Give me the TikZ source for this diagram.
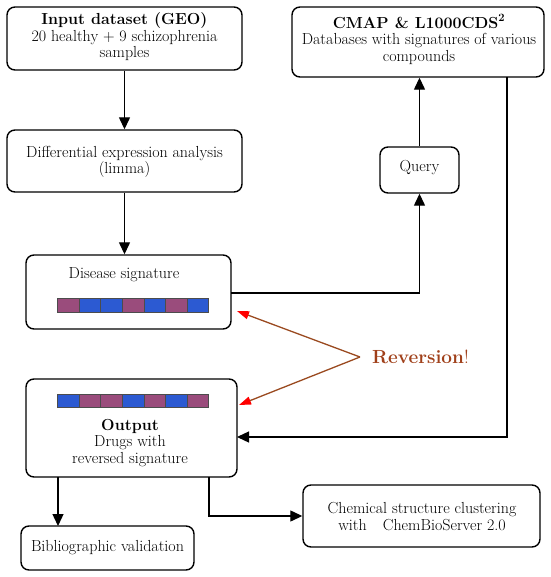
\documentclass[tikz,border=0pt]{standalone}
\usetikzlibrary{arrows.meta,calc}
\definecolor{mauve}{HTML}{9A4C7C}
\definecolor{sblue}{HTML}{2C5AD2}
\definecolor{revbrown}{HTML}{A0401A}
\definecolor{revline}{HTML}{9A4A20}
\tikzset{
  box/.style={draw, line width=1.4pt, rounded corners=8pt, inner sep=0pt},
  txt/.style={font=\fontsize{16}{16.5}\selectfont, align=center, inner sep=0pt},
  conn/.style={line width=1.3pt},
  arr/.style={conn, -{Triangle[length=12pt,width=11pt]}},
  rarr/.style={line width=1.3pt, revline, -{Triangle[length=12pt,width=8pt,color=red,fill=red]}},
  seg/.style={draw=black!70, line width=0.5pt},
}
\begin{document}
\begin{tikzpicture}[x=1pt,y=-1pt]
\useasboundingbox (0,0) rectangle (550,577);
% boxes
\node[box, minimum width=235pt, minimum height=63pt] (in) at (124.5,38.5) {};
\node[txt] (intxt) at (124.5,37) {\textbf{Input dataset (GEO)}\\20 healthy + 9 schizophrenia\\samples};
\node[box, minimum width=252pt, minimum height=70pt] (cmap) at (418,42) {};
\node[txt] (cmaptxt) at (419,39.5) {\textbf{CMAP \& L1000CDS\textsuperscript{2}}\\Databases with signatures of various\\compounds};
\node[box, minimum width=235pt, minimum height=62pt] (diff) at (124.5,161) {};
\node[txt] (difftxt) at (124.5,162) {Differential expression analysis\\(limma)};
\node[box, minimum width=205pt, minimum height=74pt] (dis) at (128.5,292) {};
\node[txt] (distxt) at (124,275) {Disease signature};
\node[box, minimum width=79pt, minimum height=46pt] (query) at (419.5,170) {};
\node[txt] (querytxt) at (419.5,168) {Query};
\node[box, minimum width=211pt, minimum height=98pt] (out) at (131.5,428) {};
\node[txt] (outtxt) at (130,443) {\textbf{Output}\\Drugs with\\reversed signature};
\node[box, minimum width=173pt, minimum height=44pt] (bib) at (107.5,548) {};
\node[txt] (bibtxt) at (107.5,548) {Bibliographic validation};
\node[box, minimum width=237pt, minimum height=62pt] (chem) at (421.5,516) {};
\node[txt] (chemtxt) at (422,516.5) {Chemical structure clustering\\with\quad ChemBioServer 2.0};
% signature bars
\foreach \c [count=\i from 0] in {mauve,sblue,sblue,mauve,sblue,mauve,sblue}{
  \path[fill=\c, seg] ({57.5+\i*21.6},298) rectangle ({57.5+(\i+1)*21.6},312);
}
\foreach \c [count=\i from 0] in {sblue,mauve,mauve,sblue,mauve,sblue,mauve}{
  \path[fill=\c, seg] ({57.5+\i*21.6},394) rectangle ({57.5+(\i+1)*21.6},407);
}
% coordinates
\coordinate (c1) at (507,77);
\coordinate (c2) at (507,437);
\coordinate (c3) at (237,437);
\coordinate (o1) at (58,477);
\coordinate (b1) at (58,526);
\coordinate (o2) at (209,477);
\coordinate (o3) at (209,516);
\coordinate (d1) at (231,293);
\coordinate (r1) at (360,357);
\coordinate (r2) at (237,311);
\coordinate (r3) at (239,405);
% connectors
\draw[arr] (in.south) -- (diff.north);
\draw[arr] (diff.south) -- (diff.south |- dis.north);
\draw[arr] (d1) -| (query.south);
\draw[arr] (query.north) -- (cmap.south -| query.north);
\draw[arr] (c1) -- (c2) -- (c3);
\draw[arr] (o1) -- (b1);
\draw[arr] (o2) -- (o3) -- (chem.west);
% reversion
\node[font=\fontsize{19}{22}\selectfont, text=revbrown, anchor=west, inner sep=0pt] (rev) at (372,357) {\textbf{Reversion}!};
\draw[rarr] (r1) -- (r2);
\draw[rarr] (r1) -- (r3);
\end{tikzpicture}
\end{document}
